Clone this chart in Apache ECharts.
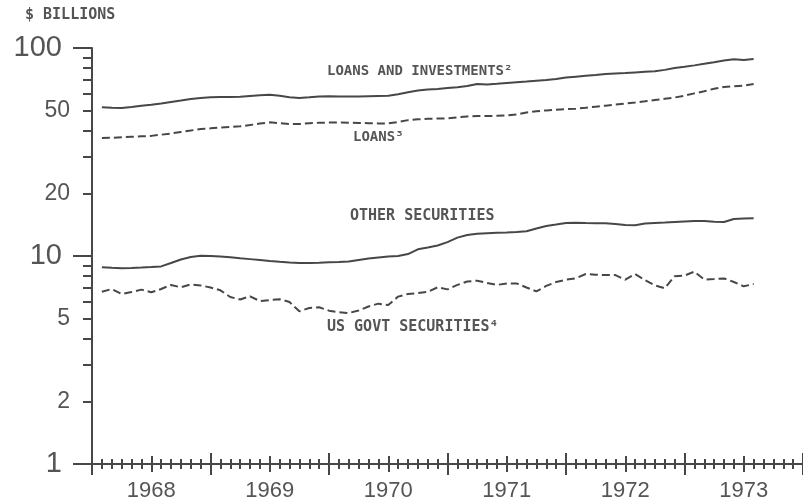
<!DOCTYPE html>
<html>
<head>
<meta charset="utf-8">
<script src="https://cdn.jsdelivr.net/npm/echarts@6/dist/echarts.min.js"></script>
<style>
html, body { margin: 0; padding: 0; background: #fff; }
#chart { width: 803px; height: 502px; }
</style>
</head>
<body>
<div id="chart"></div>
<script>
// x is months counted from Jan 1968 (0) to end of 1973 (72)
const firstMonth = 1;
const years = ['1968', '1969', '1970', '1971', '1972', '1973'];
const yTicks = [1, 2, 3, 4, 5, 6, 7, 8, 9, 10, 20, 30, 40, 50, 60, 70, 80, 90, 100];
const yMajor = [1, 10, 100];
const yLabels = [1, 2, 5, 10, 20, 50, 100];

// $ billions, monthly
const loansAndInvestments = [
  51.9, 51.6, 51.5, 52.1, 52.8, 53.4, 54.1, 55.0, 55.9, 56.9, 57.5, 57.9,
  58.1, 58.2, 58.3, 58.8, 59.2, 59.6, 58.9, 58.0, 57.5, 57.9, 58.5, 58.6,
  58.5, 58.4, 58.4, 58.6, 58.8, 59.0, 59.9, 61.2, 62.5, 63.2, 63.5, 64.2,
  64.7, 65.6, 67.2, 66.8, 67.3, 67.9, 68.5, 69.0, 69.6, 70.2, 70.9, 72.1,
  72.8, 73.5, 74.2, 75.0, 75.4, 75.8, 76.3, 76.8, 77.3, 78.5, 80.2, 81.2,
  82.5, 83.9, 85.4, 87.1, 88.3, 87.5, 88.5
];
const loans = [
  36.9, 37.0, 37.2, 37.4, 37.6, 37.8, 38.3, 38.8, 39.5, 40.1, 40.8, 41.1,
  41.5, 41.7, 42.0, 42.6, 43.3, 43.9, 43.5, 43.1, 43.1, 43.5, 43.7, 43.8,
  43.8, 43.7, 43.6, 43.5, 43.4, 43.4, 44.1, 45.0, 45.4, 45.7, 45.8, 45.9,
  46.4, 46.9, 47.1, 47.1, 47.2, 47.4, 47.9, 49.0, 49.7, 50.1, 50.5, 50.8,
  51.1, 51.6, 52.2, 52.8, 53.5, 54.1, 54.7, 55.4, 56.2, 57.0, 57.8, 59.0,
  60.5, 62.0, 63.7, 64.9, 65.4, 65.9, 67.1
];
const otherSecurities = [
  8.83, 8.78, 8.74, 8.76, 8.80, 8.85, 8.91, 9.25, 9.62, 9.89, 10.03, 10.0,
  9.94, 9.86, 9.75, 9.66, 9.57, 9.47, 9.38, 9.31, 9.25, 9.25, 9.27, 9.32,
  9.35, 9.40, 9.57, 9.73, 9.84, 9.94, 10.0, 10.22, 10.77, 10.98, 11.23, 11.66,
  12.26, 12.62, 12.79, 12.87, 12.94, 12.98, 13.05, 13.15, 13.56, 13.94, 14.17, 14.41,
  14.45, 14.41, 14.38, 14.37, 14.26, 14.09, 14.05, 14.33, 14.41, 14.47, 14.57, 14.65,
  14.73, 14.73, 14.60, 14.57, 15.07, 15.13, 15.18
];
const usGovtSecurities = [
  6.73, 6.94, 6.57, 6.71, 6.89, 6.69, 6.94, 7.26, 7.07, 7.30, 7.22, 7.06,
  6.84, 6.35, 6.18, 6.40, 6.07, 6.14, 6.20, 6.01, 5.42, 5.62, 5.67, 5.46,
  5.37, 5.32, 5.47, 5.72, 5.90, 5.81, 6.38, 6.57, 6.63, 6.72, 7.07, 6.91,
  7.26, 7.54, 7.61, 7.42, 7.26, 7.38, 7.38, 7.06, 6.76, 7.18, 7.50, 7.69,
  7.81, 8.19, 8.13, 8.10, 8.10, 7.69, 8.19, 7.66, 7.22, 7.00, 8.00, 8.05,
  8.41, 7.71, 7.75, 7.80, 7.50, 7.15, 7.33
];

const ink = '#474747';
const textInk = '#555';
const labelFont = 'Liberation Sans';
const monoFont = 'DejaVu Sans Mono';

function pairs(arr) {
  return arr.map((v, i) => [firstMonth + i, v]);
}

function lineSeries(name, data, dashed) {
  return {
    name: name,
    type: 'line',
    xAxisIndex: 0,
    yAxisIndex: 0,
    data: pairs(data),
    showSymbol: false,
    symbol: 'none',
    lineStyle: { color: ink, width: 2, type: dashed ? [8, 4] : 'solid' },
    silent: true
  };
}

// extra bottom axes only carry ticks; negative offset makes them cross the axis line
function tickAxis(interval, offset, length) {
  return {
    type: 'value', position: 'bottom', min: 0, max: 72, interval: interval, offset: offset,
    axisLine: { show: false },
    axisTick: { show: true, inside: false, length: length, lineStyle: { color: ink, width: 2 } },
    axisLabel: { show: false },
    splitLine: { show: false }
  };
}

const labelText = (t, left, top, size) => ({
  type: 'text', left: left, top: top,
  style: { text: t, fill: textInk, font: 'bold ' + (size || 14) + 'px "' + monoFont + '"' }
});

const chart = echarts.init(document.getElementById('chart'));
chart.setOption({
  animation: false,
  backgroundColor: '#fff',
  grid: { left: 92, top: 48, width: 711, height: 417 },
  xAxis: [
    {
      type: 'value', position: 'bottom', min: 0, max: 72,
      axisLine: { show: true, lineStyle: { color: ink, width: 2 } },
      axisTick: { show: false },
      axisLabel: {
        customValues: years.map((y, i) => 6 + 12 * i),
        formatter: v => years[(v - 6) / 12],
        margin: 16, color: textInk, fontSize: 22, fontFamily: labelFont
      },
      splitLine: { show: false }
    },
    tickAxis(1, -5, 10),
    tickAxis(6, -8, 16),
    tickAxis(12, -11, 22)
  ],
  yAxis: [
    {
      type: 'log', logBase: 10, min: 1, max: 100, position: 'left',
      axisLine: { show: true, lineStyle: { color: ink, width: 2 } },
      axisTick: { show: true, customValues: yTicks, length: 9, lineStyle: { color: ink, width: 2 } },
      axisLabel: {
        customValues: yLabels,
        margin: 22,
        formatter: v => yMajor.includes(v) ? '{big|' + v + '}' : '{small|' + v + '}',
        rich: {
          big: { fontSize: 29, color: textInk, fontFamily: labelFont, padding: [0, 8, 0, 0] },
          small: { fontSize: 23, color: textInk, fontFamily: labelFont }
        }
      },
      splitLine: { show: false }
    },
    {
      type: 'log', logBase: 10, min: 1, max: 100, position: 'left',
      axisLine: { show: false },
      axisTick: { show: true, customValues: yMajor, length: 19, lineStyle: { color: ink, width: 2 } },
      axisLabel: { show: false },
      splitLine: { show: false }
    }
  ],
  graphic: [
    labelText('$ BILLIONS', 25, 8, 15),
    labelText('LOANS AND INVESTMENTS²', 327, 64),
    labelText('LOANS³', 353, 130),
    labelText('OTHER SECURITIES', 350, 209, 15),
    labelText('US GOVT SECURITIES⁴', 327, 320, 15)
  ],
  series: [
    lineSeries('Loans and investments', loansAndInvestments, false),
    lineSeries('Loans', loans, true),
    lineSeries('Other securities', otherSecurities, false),
    lineSeries('US Govt securities', usGovtSecurities, true)
  ]
});
</script>
</body>
</html>
